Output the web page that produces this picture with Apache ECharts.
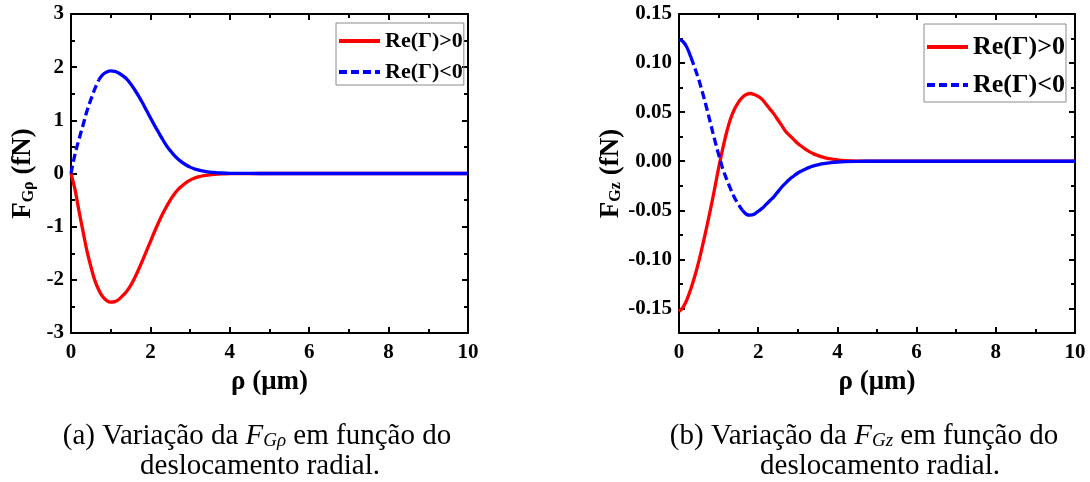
<!DOCTYPE html>
<html>
<head>
<meta charset="utf-8">
<script src="https://cdn.jsdelivr.net/npm/echarts@6/dist/echarts.min.js"></script>
<style>
  html, body { margin: 0; padding: 0; background: #fff; }
  #chart { width: 1090px; height: 482px; }
</style>
</head>
<body>
<div id="chart"></div>
<script>
// Radial displacement ρ (μm)
const rho = [0, 0.1, 0.2, 0.3, 0.4, 0.5, 0.6, 0.7, 0.8, 0.9,
             1.0, 1.1, 1.2, 1.3, 1.4, 1.5, 1.6, 1.7, 1.8, 1.9,
             2.0, 2.1, 2.2, 2.3, 2.4, 2.5, 2.6, 2.7, 2.8, 2.9,
             3.0, 3.1, 3.2, 3.3, 3.4, 3.5, 3.6, 3.7, 3.8,
             4.0, 4.2, 4.5, 5, 6, 7, 8, 9, 10];

// (a) radial gradient force F_Gρ (fN)
const fGrhoPos = [0, -0.30, -0.70, -1.08, -1.45, -1.75, -2.01, -2.19, -2.32, -2.39,
                  -2.42, -2.41, -2.37, -2.30, -2.22, -2.11, -1.97, -1.81, -1.64, -1.46,
                  -1.28, -1.10, -0.93, -0.77, -0.63, -0.50, -0.39, -0.30, -0.23, -0.17,
                  -0.125, -0.09, -0.065, -0.047, -0.034, -0.024, -0.017, -0.012, -0.008,
                  -0.004, -0.002, -0.0005, 0, 0, 0, 0, 0, 0];
const fGrhoNeg = [0, 0.36, 0.64, 0.90, 1.17, 1.39, 1.59, 1.76, 1.86, 1.91,
                  1.93, 1.92, 1.89, 1.84, 1.78, 1.69, 1.58, 1.46, 1.33, 1.19,
                  1.05, 0.91, 0.78, 0.65, 0.53, 0.43, 0.34, 0.27, 0.21, 0.16,
                  0.12, 0.09, 0.067, 0.05, 0.037, 0.027, 0.019, 0.013, 0.009,
                  0.004, 0.002, 0.0005, 0, 0, 0, 0, 0, 0];

// (b) axial gradient force F_Gz (fN)
const fGzPos = [-0.153, -0.149, -0.141, -0.130, -0.117, -0.102, -0.085, -0.067, -0.048, -0.028,
                -0.007, 0.012, 0.029, 0.043, 0.053, 0.060, 0.065, 0.068, 0.069, 0.068,
                0.066, 0.063, 0.058, 0.053, 0.048, 0.042, 0.036, 0.030, 0.026, 0.022,
                0.018, 0.015, 0.012, 0.0095, 0.0075, 0.006, 0.0045, 0.0035, 0.0026,
                0.0014, 0.0007, 0.0002, 0, 0, 0, 0, 0, 0];
const fGzNeg = [0.124, 0.122, 0.116, 0.106, 0.095, 0.083, 0.069, 0.054, 0.038, 0.022,
                0.007, -0.007, -0.018, -0.028, -0.037, -0.044, -0.050, -0.054, -0.055, -0.054,
                -0.051, -0.048, -0.044, -0.040, -0.036, -0.031, -0.026, -0.022, -0.018, -0.015,
                -0.012, -0.0098, -0.0078, -0.0062, -0.0048, -0.0037, -0.0028, -0.0021, -0.0016,
                -0.0008, -0.0004, -0.0001, 0, 0, 0, 0, 0, 0];

// Tick values
const xTicks = [0, 2, 4, 6, 8, 10];
const xMinorTicks = [1, 3, 5, 7, 9];
const yTicksA = [-3, -2, -1, 0, 1, 2, 3];
const yMinorTicksA = [-2.5, -1.5, -0.5, 0.5, 1.5, 2.5];
const yTicksB = [-0.15, -0.10, -0.05, 0, 0.05, 0.10, 0.15];
const yMinorTicksB = [-0.125, -0.075, -0.025, 0.025, 0.075, 0.125];

const seriesNames = ['Re(Γ)>0', 'Re(Γ)<0'];

const SERIF = '"Liberation Serif", "Times New Roman", serif';
const RED = '#ff0000';
const BLUE = '#0000ff';

function pairs(ys, from, to) {
  const out = [];
  for (let i = 0; i < rho.length; i++) {
    if (rho[i] >= from - 1e-9 && rho[i] <= to + 1e-9) out.push([rho[i], ys[i]]);
  }
  return out;
}

// A framed axis side: one axis with line, major ticks (and labels), one with minor ticks only
function axisPair(gridIndex, position, min, max, majors, minors, labels, fmt, margin) {
  const major = {
    type: 'value', gridIndex, position, min, max,
    axisLine: { show: true, onZero: false, lineStyle: { color: '#000', width: 2 } },
    axisTick: { show: true, inside: true, length: 6, customValues: majors,
                lineStyle: { color: '#000', width: 2 } },
    axisLabel: labels ? {
      show: true, customValues: majors, formatter: fmt, margin,
      fontFamily: SERIF, fontWeight: 'bold', fontSize: 21, color: '#000'
    } : { show: false },
    splitLine: { show: false },
    minorTick: { show: false }
  };
  const minor = {
    type: 'value', gridIndex, position, min, max,
    axisLine: { show: false, onZero: false },
    axisTick: { show: true, inside: true, length: 4, customValues: minors,
                lineStyle: { color: '#000', width: 2 } },
    axisLabel: { show: false },
    splitLine: { show: false }
  };
  return [major, minor];
}

const fmtA = v => String(v);
const fmtB = v => v.toFixed(2);

const xAxes = [
  ...axisPair(0, 'bottom', 0, 10, xTicks, xMinorTicks, true, fmtA, 9),
  ...axisPair(0, 'top', 0, 10, xTicks, xMinorTicks, false),
  ...axisPair(1, 'bottom', 0, 10, xTicks, xMinorTicks, true, fmtA, 9),
  ...axisPair(1, 'top', 0, 10, xTicks, xMinorTicks, false)
];
const yAxes = [
  ...axisPair(0, 'left', -3, 3, yTicksA, yMinorTicksA, true, fmtA, 7),
  ...axisPair(0, 'right', -3, 3, yTicksA, yMinorTicksA, false),
  ...axisPair(1, 'left', -0.175, 0.15, yTicksB, yMinorTicksB, true, fmtB, 7),
  ...axisPair(1, 'right', -0.175, 0.15, yTicksB, yMinorTicksB, false)
];

// axis titles
const nameFont = { fontFamily: SERIF, fontWeight: 'bold', color: '#000' };
Object.assign(xAxes[0], { name: 'ρ (μm)', nameLocation: 'middle', nameGap: 36,
  nameTextStyle: Object.assign({ fontSize: 27 }, nameFont) });
Object.assign(xAxes[4], { name: 'ρ (μm)', nameLocation: 'middle', nameGap: 36,
  nameTextStyle: Object.assign({ fontSize: 27 }, nameFont) });
function yTitle(sub) {
  return {
    name: '{f|F}{s|' + sub + '}{f| (fN)}', nameLocation: 'middle', nameRotate: 90, nameGap: 34,
    nameTextStyle: {
      rich: {
        f: Object.assign({ fontSize: 27, lineHeight: 27 }, nameFont),
        s: Object.assign({ fontSize: 16, lineHeight: 10, verticalAlign: 'bottom' }, nameFont)
      }
    }
  };
}
Object.assign(yAxes[0], yTitle('Gρ'));
Object.assign(yAxes[4], yTitle('Gz'));

function line(name, data, color, xi, yi, dashed) {
  return {
    type: 'line', name, data, xAxisIndex: xi, yAxisIndex: yi,
    showSymbol: false, symbol: 'none', smooth: 0.35,
    lineStyle: { color, width: 3.3, type: dashed ? [8, 4] : 'solid' },
    itemStyle: { color },
    emphasis: { disabled: true }
  };
}

const series = [
  // panel (a)
  line(seriesNames[0], pairs(fGrhoPos, 0, 10), RED, 0, 0, false),
  line(seriesNames[1], pairs(fGrhoNeg, 0, 0.7), BLUE, 0, 0, true),
  line('Re(Γ)<0 cauda (a)', pairs(fGrhoNeg, 0.7, 10), BLUE, 0, 0, false),
  // panel (b)
  line(seriesNames[0] + ' (b)', pairs(fGzPos, 0, 10), RED, 4, 4, false),
  line('Re(Γ)<0 início (b)', pairs(fGzNeg, 0, 0.3), BLUE, 4, 4, false),
  line(seriesNames[1] + ' (b)', pairs(fGzNeg, 0.3, 1.6), BLUE, 4, 4, true),
  line('Re(Γ)<0 cauda (b)', pairs(fGzNeg, 1.6, 10), BLUE, 4, 4, false)
];

function legend(left, top, fontSize, lineH, gap, padding) {
  return {
    orient: 'vertical', left, top, data: seriesNames,
    itemWidth: 41, itemHeight: 12, itemGap: gap, padding,
    borderColor: '#8c8c8c', borderWidth: 1, selectedMode: false,
    itemStyle: { opacity: 0 },
    lineStyle: { width: 4 },
    textStyle: { fontFamily: SERIF, fontWeight: 'bold', fontSize, color: '#000', lineHeight: lineH }
  };
}

function caption(x, y, text) {
  return {
    type: 'text', x, y,
    style: {
      text,
      textAlign: 'center', textVerticalAlign: 'middle',
      align: 'center', verticalAlign: 'middle',
      font: '29px ' + SERIF, fill: '#000',
      rich: {
        it: { fontFamily: SERIF, fontStyle: 'italic', fontSize: 29, fill: '#000' },
        sub: { fontFamily: SERIF, fontStyle: 'italic', fontSize: 19, fill: '#000',
               verticalAlign: 'bottom', lineHeight: 14 }
      }
    }
  };
}

const chart = echarts.init(document.getElementById('chart'), null, { renderer: 'canvas' });
chart.setOption({
  animation: false,
  backgroundColor: '#fff',
  grid: [
    { left: 71, top: 14, width: 397, height: 319 },
    { left: 679, top: 14, width: 396, height: 319 }
  ],
  xAxis: xAxes,
  yAxis: yAxes,
  legend: [
    legend(336, 23, 22, 22, 9, [7, 1, 2, 1]),
    legend(924, 24, 26, 28, 10, [9, 1, 3, 1])
  ],
  series,
  graphic: [
    caption(257, 436, '(a) Variação da {it|F}{sub|Gρ} em função do'),
    caption(260, 466, 'deslocamento radial.'),
    caption(864, 436, '(b) Variação da {it|F}{sub|Gz} em função do'),
    caption(880, 466, 'deslocamento radial.')
  ]
});
</script>
</body>
</html>
